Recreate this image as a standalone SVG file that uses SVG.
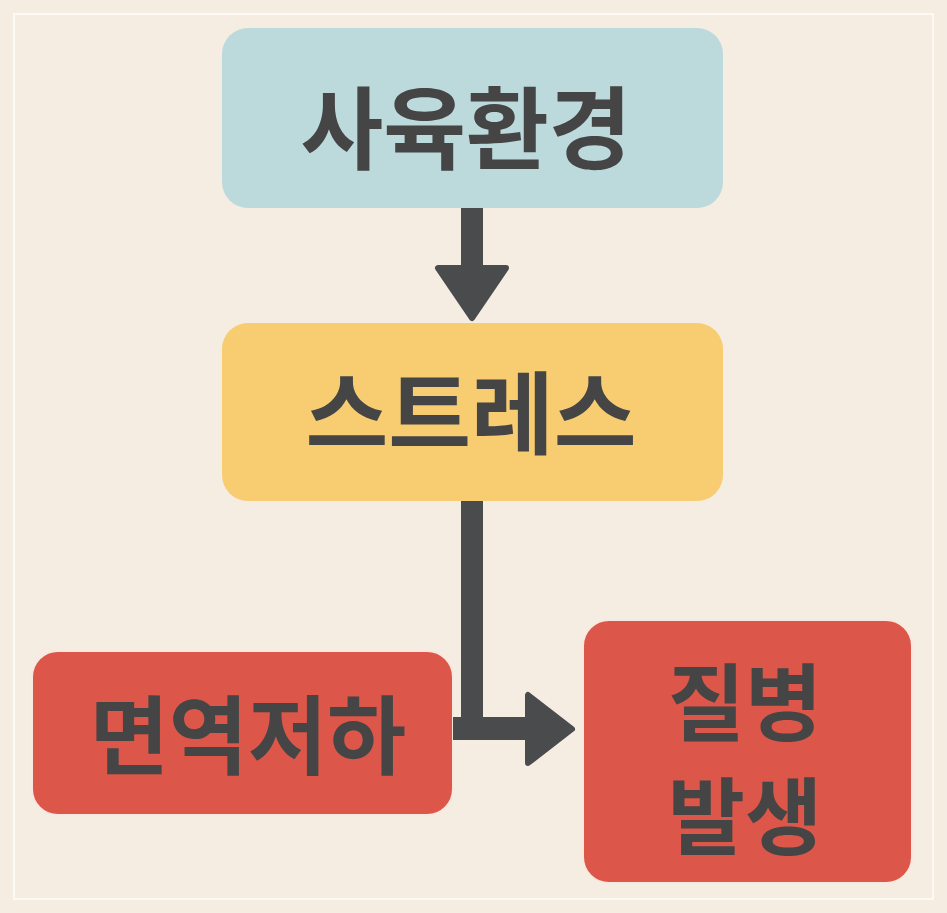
<svg xmlns="http://www.w3.org/2000/svg" width="947" height="913" viewBox="0 0 947 913">
<style>
.t{font-family:"Noto Sans CJK KR","Noto Sans",sans-serif;font-weight:700;fill:#454545;text-anchor:middle}
.c{fill:#4a4b4d;stroke:#4a4b4d;stroke-linejoin:round}
</style>
<rect width="947" height="913" fill="#f5ede2"/>
<rect x="14" y="14" width="919" height="885" fill="none" stroke="#fdfaf5" stroke-width="2"/>
<g id="n1"><rect x="222" y="28" width="501" height="180" rx="26" fill="#bcd9dc"/><text class="t" x="466" y="162" font-size="90">사육환경</text></g>
<g id="n2"><rect x="222" y="323" width="501" height="178" rx="26" fill="#f8cd72"/><text class="t" x="471" y="447" font-size="90">스트레스</text></g>
<g id="n3"><rect x="32" y="651" width="421" height="164" rx="26" fill="#dc5649" stroke="#f8e8df" stroke-width="2"/><text class="t" x="248" y="768" font-size="86">면역저하</text></g>
<g id="n4"><rect x="583" y="620" width="329" height="263" rx="26" fill="#dc5649" stroke="#f8e8df" stroke-width="2"/><text class="t" x="745" y="734" font-size="84">질병</text><text class="t" x="745" y="848" font-size="84">발생</text></g>
<g id="connectors">
<rect class="c" x="461" y="208" width="22" height="62" stroke-width="0"/>
<polygon class="c" points="438,268 506,268 472,318" stroke-width="6"/>
<path class="c" d="M461 501 H483 V717 H528 V740 H453 V717 H461 Z" stroke-width="0"/>
<polygon class="c" points="528,695 528,763 572,729" stroke-width="6"/>
</g>
</svg>
